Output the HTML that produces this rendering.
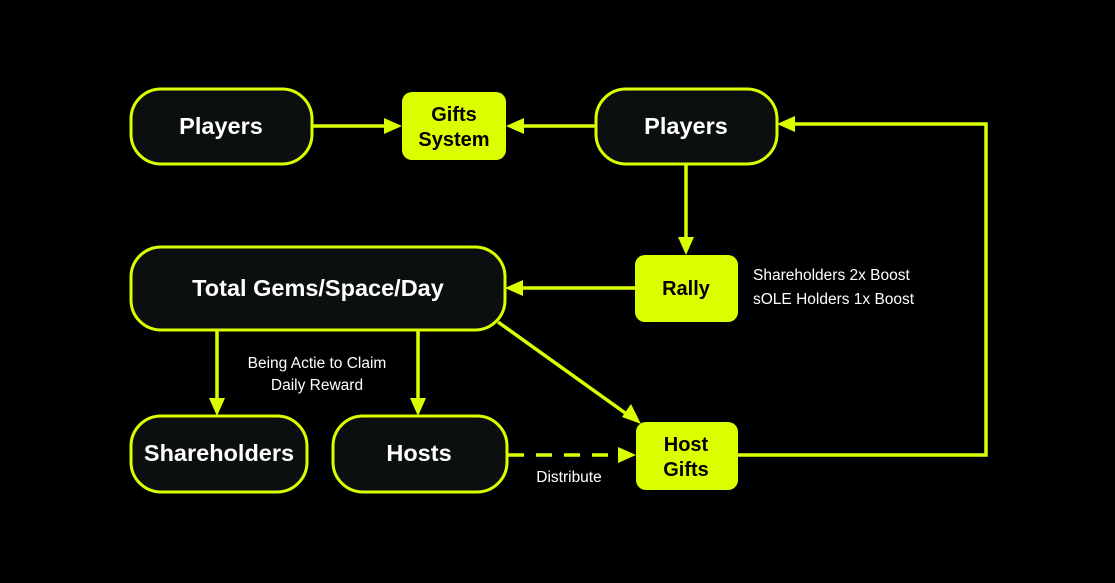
<!DOCTYPE html>
<html><head><meta charset="utf-8"><style>
html,body{margin:0;padding:0;background:#000;}
svg{display:block;}
text{font-family:"Liberation Sans",Arial,sans-serif;}
</style></head><body>
<svg width="1115" height="583" viewBox="0 0 1115 583" xmlns="http://www.w3.org/2000/svg">
<rect width="1115" height="583" fill="#000"/>
<g fill="#0b0f0f" stroke="#dcff00" stroke-width="3">
<rect x="131" y="89" width="181" height="75" rx="30"/>
<rect x="596" y="89" width="181" height="75" rx="30"/>
<rect x="131" y="247" width="374" height="83" rx="30"/>
<rect x="131" y="416" width="176" height="76" rx="30"/>
<rect x="333" y="416" width="174" height="76" rx="30"/>
</g>
<g fill="#dcff00">
<rect x="402" y="92" width="104" height="68" rx="10"/>
<rect x="635" y="255" width="103" height="67" rx="10"/>
<rect x="636" y="422" width="102" height="68" rx="10"/>
</g>
<g stroke="#dcff00" stroke-width="3.5" fill="none">
<line x1="312" y1="126" x2="386" y2="126"/>
<line x1="596" y1="126" x2="522" y2="126"/>
<line x1="686" y1="164" x2="686" y2="239"/>
<line x1="635" y1="288" x2="521" y2="288"/>
<line x1="217" y1="330" x2="217" y2="400"/>
<line x1="418" y1="330" x2="418" y2="400"/>
<line x1="498" y1="322" x2="628" y2="415"/>
<line x1="508" y1="455" x2="620" y2="455" stroke-dasharray="16,12"/>
<polyline points="738,455 986,455 986,124 793,124"/>
</g>
<g fill="#dcff00">
<polygon points="402,126 384,118 384,134"/>
<polygon points="506,126 524,118 524,134"/>
<polygon points="686,255 678,237 694,237"/>
<polygon points="505,288 523,280 523,296"/>
<polygon points="217,416 209,398 225,398"/>
<polygon points="418,416 410,398 426,398"/>
<polygon points="641,424 622,417 631,404"/>
<polygon points="636,455 618,447 618,463"/>
<polygon points="777,124 795,116 795,132"/>
</g>
<g fill="#fff" font-weight="bold" font-size="23.5" text-anchor="middle">
<text x="221" y="134">Players</text>
<text x="686" y="134">Players</text>
<text x="318" y="296">Total Gems/Space/Day</text>
<text x="219" y="461">Shareholders</text>
<text x="419" y="461">Hosts</text>
</g>
<g fill="#000" font-weight="bold" font-size="20" text-anchor="middle">
<text x="454" y="121">Gifts</text>
<text x="454" y="146">System</text>
<text x="686" y="295">Rally</text>
<text x="686" y="451">Host</text>
<text x="686" y="476">Gifts</text>
</g>
<g fill="#fff" font-size="15.5">
<text x="753" y="280">Shareholders 2x Boost</text>
<text x="753" y="304">sOLE Holders 1x Boost</text>
<text x="317" y="368" text-anchor="middle">Being Actie to Claim</text>
<text x="317" y="390" text-anchor="middle">Daily Reward</text>
<text x="569" y="482" text-anchor="middle">Distribute</text>
</g>
</svg>
</body></html>
